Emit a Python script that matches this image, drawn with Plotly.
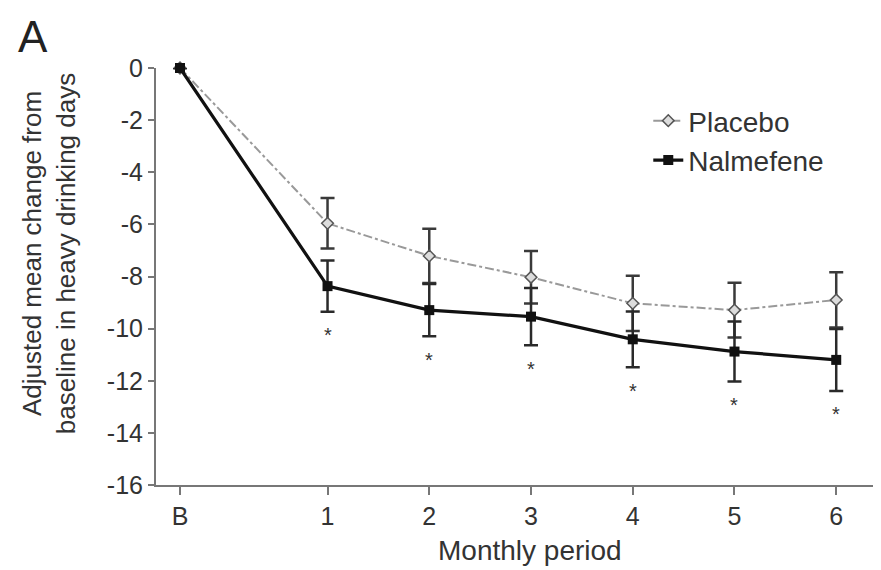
import plotly.graph_objects as go

tick_labels = ["B", "1", "2", "3", "4", "5", "6"]
x_pos = [-0.45, 1, 2, 3, 4, 5, 6]
y_tickvals = [0, -2, -4, -6, -8, -10, -12, -14, -16]
y_ticktext = ["0", "-2", "-4", "-6", "-8", "-10", "-12", "-14", "-16"]

placebo = [0, -5.96, -7.21, -8.03, -9.03, -9.29, -8.90]
placebo_err = [0, 0.97, 1.04, 1.01, 1.06, 1.05, 1.06]
nalmefene = [0, -8.37, -9.29, -9.54, -10.41, -10.88, -11.20]
nalmefene_err = [0, 0.98, 1.00, 1.10, 1.07, 1.15, 1.19]
significant = [False, True, True, True, True, True, True]

FONT = "Liberation Sans, Arial, sans-serif"
TXT = "#333333"
fig = go.Figure()

fig.add_trace(go.Scatter(
    x=x_pos, y=placebo, name="Placebo", mode="lines+markers",
    line=dict(color="#999999", width=2, dash="dashdot"),
    marker=dict(symbol="diamond", size=9, color="#dcdcdc",
                line=dict(color="#555555", width=1.5)),
    error_y=dict(type="data", array=placebo_err, visible=True,
                 color="#3a3a3a", thickness=2.5, width=7),
    cliponaxis=False,
))
fig.add_trace(go.Scatter(
    x=x_pos, y=nalmefene, name="Nalmefene", mode="lines+markers",
    line=dict(color="#111111", width=3.2),
    marker=dict(symbol="square", size=10, color="#111111"),
    error_y=dict(type="data", array=nalmefene_err, visible=True,
                 color="#2a2a2a", thickness=2.5, width=7),
    cliponaxis=False,
))

for xp, v, e, s in zip(x_pos, nalmefene, nalmefene_err, significant):
    if s:
        fig.add_annotation(x=xp, y=v - e - 0.9, text="*", showarrow=False,
                           font=dict(size=20, color=TXT, family=FONT),
                           yanchor="middle")

fig.add_annotation(xref="paper", yref="paper", x=-0.1476, y=0.556,
                   xanchor="center", yanchor="middle",
                   text="Adjusted mean change from<br>baseline in heavy drinking days",
                   textangle=-90, showarrow=False,
                   font=dict(size=26, color=TXT, family=FONT))
fig.add_annotation(xref="paper", yref="paper", x=-0.1925, y=1.14,
                   xanchor="left", yanchor="top", text="A", showarrow=False,
                   font=dict(size=44, color="#222222", family=FONT))
fig.add_annotation(xref="paper", yref="paper", x=0.516, y=-0.158,
                   xanchor="center", yanchor="middle", text="Monthly period",
                   showarrow=False, font=dict(size=28, color=TXT, family=FONT))

# page body adds an 8px offset, so the figure is 8px smaller than the window
fig.update_layout(
    width=873, height=562,
    margin=dict(l=148, r=0, t=60, b=85),
    paper_bgcolor="white", plot_bgcolor="white",
    font=dict(family=FONT, size=25, color=TXT),
    showlegend=True,
    legend=dict(x=0.679, y=0.933, xanchor="left", yanchor="top",
                bgcolor="rgba(0,0,0,0)", font=dict(size=28, color=TXT),
                tracegroupgap=0),
    xaxis=dict(range=[-0.686, 6.44], tickvals=x_pos, ticktext=tick_labels,
               showgrid=False, zeroline=False, showline=True,
               linecolor="#777777", linewidth=2, ticks="outside",
               ticklen=8, tickcolor="#777777", tickwidth=1.5,
               tickfont=dict(size=25)),
    yaxis=dict(range=[-16, 0], tickvals=y_tickvals, ticktext=y_ticktext,
               showgrid=False, zeroline=False,
               showline=True, linecolor="#777777", linewidth=2,
               tickfont=dict(size=25),
               ticks="outside", ticklen=6, tickcolor="#777777", tickwidth=1.5),
)

fig.write_html("out.html")
